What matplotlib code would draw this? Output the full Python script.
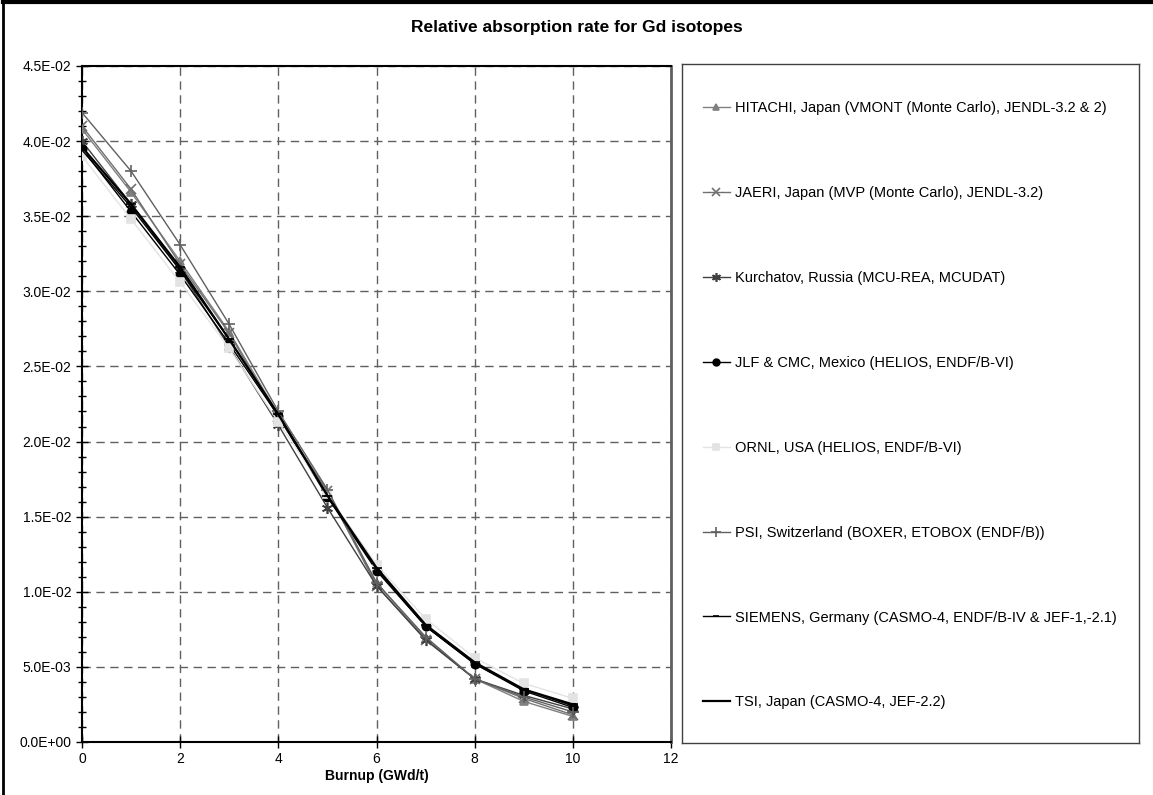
import matplotlib
matplotlib.use("Agg")
import matplotlib.pyplot as plt
from matplotlib.ticker import MultipleLocator, FuncFormatter
import numpy as np

plt.rcParams["font.family"] = ["Liberation Sans", "DejaVu Sans"]

burnup = [0, 1, 2, 3, 4, 5, 6, 7, 8, 9, 10]

labels = [
    "HITACHI, Japan (VMONT (Monte Carlo), JENDL-3.2 & 2)",
    "JAERI, Japan (MVP (Monte Carlo), JENDL-3.2)",
    "Kurchatov, Russia (MCU-REA, MCUDAT)",
    "JLF & CMC, Mexico (HELIOS, ENDF/B-VI)",
    "ORNL, USA (HELIOS, ENDF/B-VI)",
    "PSI, Switzerland (BOXER, ETOBOX (ENDF/B))",
    "SIEMENS, Germany (CASMO-4, ENDF/B-IV & JEF-1,-2.1)",
    "TSI, Japan (CASMO-4, JEF-2.2)",
]

hitachi   = [0.0408, 0.0366, 0.0320, 0.0273, 0.0218, 0.0166, 0.0106, 0.0069, 0.0042, 0.0027, 0.0017]
jaeri     = [0.0410, 0.0368, 0.0318, 0.0272, 0.0216, 0.0167, 0.0104, 0.0068, 0.0042, 0.0029, 0.0018]
kurchatov = [0.0400, 0.0358, 0.0314, 0.0263, 0.0211, 0.0156, 0.0104, 0.0068, 0.0042, 0.0031, 0.0022]
jlf       = [0.0395, 0.0353, 0.0311, 0.0265, 0.0217, 0.0163, 0.0114, 0.0077, 0.0052, 0.0034, 0.0023]
ornl      = [0.0390, 0.0348, 0.0306, 0.0262, 0.0213, 0.0165, 0.0118, 0.0082, 0.0056, 0.0039, 0.0029]
psi       = [0.0419, 0.0380, 0.0331, 0.0278, 0.0220, 0.0168, 0.0106, 0.0070, 0.0042, 0.0030, 0.0020]
siemens   = [0.0394, 0.0356, 0.0314, 0.0268, 0.0218, 0.0164, 0.0115, 0.0077, 0.0052, 0.0035, 0.0024]
tsi       = [0.0396, 0.0358, 0.0316, 0.0268, 0.0218, 0.0164, 0.0116, 0.0078, 0.0053, 0.0035, 0.0025]

series = [hitachi, jaeri, kurchatov, jlf, ornl, psi, siemens, tsi]

# colour, marker, marker size, line width
styles = [
    ("#808080", "^", 6, 1.0),
    ("#707070", "x", 7, 1.0),
    ("#404040", (6, 2, 0), 8, 1.0),
    ("#000000", "o", 6, 1.0),
    ("#e3e3e3", "s", 6, 1.0),
    ("#606060", "+", 9, 1.0),
    ("#000000", "_", 5, 1.0),
    ("#000000", "_", 7, 1.6),
]

fig = plt.figure(figsize=(11.53, 7.95), dpi=100)

# outer chart border (left and top visible)
fig.add_artist(plt.Line2D([0.003, 0.003], [0, 0.999], transform=fig.transFigure, color="black", lw=2))
fig.add_artist(plt.Line2D([0.003, 1.0], [0.998, 0.998], transform=fig.transFigure, color="black", lw=3))

ax = fig.add_axes([0.0711, 0.0667, 0.5109, 0.8503])

handles = []
for vals, lab, (col, mk, ms, lw) in zip(series, labels, styles):
    h, = ax.plot(burnup, vals, color=col, marker=mk, markersize=ms, lw=lw,
                 markeredgewidth=1.2, label=lab, zorder=3)
    handles.append(h)

ax.set_xlim(0, 12)
ax.set_ylim(0, 0.045)
ax.xaxis.set_major_locator(MultipleLocator(2))
ax.yaxis.set_major_locator(MultipleLocator(0.005))
ax.yaxis.set_minor_locator(MultipleLocator(0.001))
ax.yaxis.set_major_formatter(FuncFormatter(lambda v, p: f"{v:.1E}"))
ax.tick_params(axis="both", which="major", direction="inout", length=8, width=1,
               labelsize=10, color="black")
ax.tick_params(axis="y", which="minor", direction="inout", length=6, width=1)
ax.grid(True, which="major", color="#606060", linestyle=(0, (6, 4)), lw=1)
for side in ["top", "left", "bottom"]:
    ax.spines[side].set_color("black")
    ax.spines[side].set_linewidth(1.5)
ax.spines["right"].set_color("#606060")
ax.spines["right"].set_linewidth(2)

ax.set_xlabel("Burnup (GWd/t)", fontsize=10, fontweight="bold", labelpad=2)
fig.text(0.5, 0.966, "Relative absorption rate for Gd isotopes", ha="center", va="center",
         fontsize=12.5, fontweight="bold")

# legend box
lax = fig.add_axes([0.5915, 0.0654, 0.3964, 0.8541])
lax.set_xticks([])
lax.set_yticks([])
for s in lax.spines.values():
    s.set_color("#404040")
    s.set_linewidth(1)
lax.legend(handles, labels, loc="upper left", frameon=False, fontsize=10.5,
           labelspacing=4.86, handlelength=1.9, handletextpad=0.3,
           borderaxespad=0, borderpad=0, bbox_to_anchor=(0.045, 0.945),
           markerscale=0.8)

fig.savefig("out.png", dpi=100)
